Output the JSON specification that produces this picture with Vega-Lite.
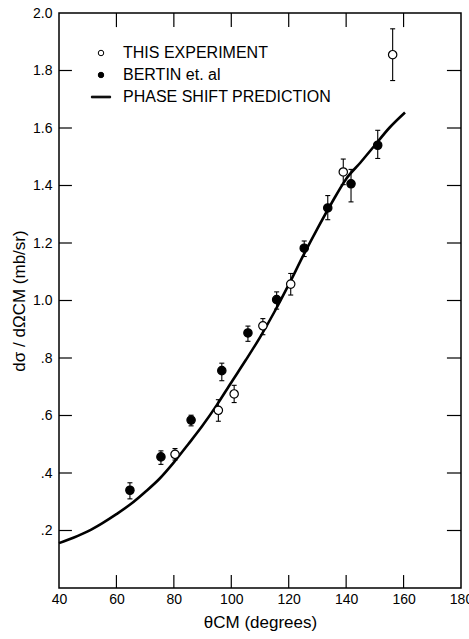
{
  "$schema": "https://vega.github.io/schema/vega-lite/v6.json",
  "width": 402,
  "height": 575,
  "autosize": {"type": "none"},
  "padding": {"left": 59, "top": 13, "right": 8, "bottom": 51},
  "background": "white",
  "config": {
    "view": {"stroke": "black", "strokeWidth": 1.5},
    "font": "Liberation Sans"
  },
  "datasets": {
    "xticks": [{"v": 60}, {"v": 80}, {"v": 100}, {"v": 120}, {"v": 140}, {"v": 160}],
    "yticks": [{"v": 0.2}, {"v": 0.4}, {"v": 0.6}, {"v": 0.8}, {"v": 1.0}, {"v": 1.2}, {"v": 1.4}, {"v": 1.6}, {"v": 1.8}],
    "curve": [
      {"theta": 40, "sigma": 0.156},
      {"theta": 45, "sigma": 0.175},
      {"theta": 50, "sigma": 0.197},
      {"theta": 55, "sigma": 0.225},
      {"theta": 60, "sigma": 0.257},
      {"theta": 65, "sigma": 0.292},
      {"theta": 70, "sigma": 0.334},
      {"theta": 75, "sigma": 0.38},
      {"theta": 80, "sigma": 0.437},
      {"theta": 85, "sigma": 0.5},
      {"theta": 90, "sigma": 0.565},
      {"theta": 95, "sigma": 0.637},
      {"theta": 100, "sigma": 0.715},
      {"theta": 105, "sigma": 0.792},
      {"theta": 110, "sigma": 0.872},
      {"theta": 115, "sigma": 0.96},
      {"theta": 120, "sigma": 1.055},
      {"theta": 125, "sigma": 1.155},
      {"theta": 130, "sigma": 1.25},
      {"theta": 135, "sigma": 1.34},
      {"theta": 140, "sigma": 1.423},
      {"theta": 145, "sigma": 1.48},
      {"theta": 150, "sigma": 1.54},
      {"theta": 155, "sigma": 1.6},
      {"theta": 160.5, "sigma": 1.654}
    ],
    "points": [
      {"theta": 80.4, "sigma": 0.465, "lo": 0.445, "hi": 0.485, "series": "THIS EXPERIMENT"},
      {"theta": 95.5, "sigma": 0.618, "lo": 0.58, "hi": 0.655, "series": "THIS EXPERIMENT"},
      {"theta": 101, "sigma": 0.675, "lo": 0.645, "hi": 0.705, "series": "THIS EXPERIMENT"},
      {"theta": 111, "sigma": 0.912, "lo": 0.881, "hi": 0.937, "series": "THIS EXPERIMENT"},
      {"theta": 120.7, "sigma": 1.057, "lo": 1.019, "hi": 1.094, "series": "THIS EXPERIMENT"},
      {"theta": 139, "sigma": 1.447, "lo": 1.403, "hi": 1.492, "series": "THIS EXPERIMENT"},
      {"theta": 156.2, "sigma": 1.855, "lo": 1.765, "hi": 1.945, "series": "THIS EXPERIMENT"},
      {"theta": 64.7, "sigma": 0.34, "lo": 0.31, "hi": 0.366, "series": "BERTIN et. al"},
      {"theta": 75.5, "sigma": 0.456, "lo": 0.43, "hi": 0.477, "series": "BERTIN et. al"},
      {"theta": 86, "sigma": 0.584, "lo": 0.564, "hi": 0.601, "series": "BERTIN et. al"},
      {"theta": 96.7, "sigma": 0.756, "lo": 0.721, "hi": 0.782, "series": "BERTIN et. al"},
      {"theta": 105.8, "sigma": 0.887, "lo": 0.858, "hi": 0.911, "series": "BERTIN et. al"},
      {"theta": 115.8, "sigma": 1.003, "lo": 0.97, "hi": 1.03, "series": "BERTIN et. al"},
      {"theta": 125.4, "sigma": 1.182, "lo": 1.153, "hi": 1.207, "series": "BERTIN et. al"},
      {"theta": 133.6, "sigma": 1.322, "lo": 1.281, "hi": 1.365, "series": "BERTIN et. al"},
      {"theta": 141.7, "sigma": 1.406, "lo": 1.343, "hi": 1.456, "series": "BERTIN et. al"},
      {"theta": 151, "sigma": 1.54, "lo": 1.494, "hi": 1.592, "series": "BERTIN et. al"}
    ]
  },
  "layer": [
    {
      "data": {"name": "curve"},
      "mark": {"type": "line", "color": "black", "strokeWidth": 2.6, "interpolate": "monotone"},
      "encoding": {
        "x": {
          "field": "theta", "type": "quantitative",
          "scale": {"domain": [40, 180], "nice": false, "zero": false},
          "axis": {
            "orient": "bottom",
            "values": [40, 60, 80, 100, 120, 140, 160, 180],
            "grid": false,
            "domain": false,
            "ticks": false,
            "labelPadding": 4,
            "labelFlush": false,
            "labelFont": "Liberation Sans",
            "labelFontSize": 14,
            "labelColor": "black",
            "title": "θCM (degrees)",
            "titleFont": "Liberation Sans",
            "titleFontWeight": "normal",
            "titleColor": "black",
            "titleFontSize": 17,
            "titlePadding": 8
          }
        },
        "y": {
          "field": "sigma", "type": "quantitative",
          "scale": {"domain": [0, 2], "nice": false, "zero": false},
          "axis": {
            "orient": "left",
            "values": [0.2, 0.4, 0.6, 0.8, 1.0, 1.2, 1.4, 1.6, 1.8, 2.0],
            "grid": false,
            "domain": false,
            "ticks": false,
            "labelPadding": 7,
            "labelFlush": false,
            "labelFont": "Liberation Sans",
            "labelFontSize": 14,
            "labelColor": "black",
            "labelExpr": "datum.value >= 1 ? format(datum.value, '.1f') : replace(format(datum.value, '.1f'), '0.', '.')",
            "title": "dσ / dΩCM (mb/sr)",
            "titleFont": "Liberation Sans",
            "titleFontWeight": "normal",
            "titleColor": "black",
            "titleFontSize": 17,
            "titlePadding": 4
          }
        }
      }
    },
    {
      "data": {"name": "xticks"},
      "mark": {"type": "rule", "color": "black", "strokeWidth": 1.2},
      "encoding": {
        "x": {"field": "v", "type": "quantitative"},
        "y": {"datum": 0, "type": "quantitative"},
        "y2": {"datum": 0.045}
      }
    },
    {
      "data": {"name": "xticks"},
      "mark": {"type": "rule", "color": "black", "strokeWidth": 1.2},
      "encoding": {
        "x": {"field": "v", "type": "quantitative"},
        "y": {"datum": 1.951, "type": "quantitative"},
        "y2": {"datum": 2}
      }
    },
    {
      "data": {"name": "yticks"},
      "mark": {"type": "rule", "color": "black", "strokeWidth": 1.2},
      "encoding": {
        "y": {"field": "v", "type": "quantitative"},
        "x": {"datum": 40, "type": "quantitative"},
        "x2": {"datum": 44.5}
      }
    },
    {
      "data": {"name": "yticks"},
      "mark": {"type": "rule", "color": "black", "strokeWidth": 1.2},
      "encoding": {
        "y": {"field": "v", "type": "quantitative"},
        "x": {"datum": 175.1, "type": "quantitative"},
        "x2": {"datum": 180}
      }
    },
    {
      "data": {"name": "points"},
      "mark": {"type": "rule", "color": "black", "strokeWidth": 1.1},
      "encoding": {
        "x": {"field": "theta", "type": "quantitative"},
        "y": {"field": "lo", "type": "quantitative"},
        "y2": {"field": "hi"}
      }
    },
    {
      "data": {"name": "points"},
      "mark": {"type": "point", "shape": "M-1,0H1", "filled": false, "color": "black", "strokeWidth": 1.1, "opacity": 1, "size": 25},
      "encoding": {
        "x": {"field": "theta", "type": "quantitative"},
        "y": {"field": "lo", "type": "quantitative"}
      }
    },
    {
      "data": {"name": "points"},
      "mark": {"type": "point", "shape": "M-1,0H1", "filled": false, "color": "black", "strokeWidth": 1.1, "opacity": 1, "size": 25},
      "encoding": {
        "x": {"field": "theta", "type": "quantitative"},
        "y": {"field": "hi", "type": "quantitative"}
      }
    },
    {
      "data": {"name": "points"},
      "mark": {"type": "point", "strokeWidth": 1.2, "opacity": 1, "size": 70},
      "encoding": {
        "x": {"field": "theta", "type": "quantitative"},
        "y": {"field": "sigma", "type": "quantitative"},
        "shape": {
          "field": "series", "type": "nominal",
          "scale": {
            "domain": ["THIS EXPERIMENT", "BERTIN et. al", "PHASE SHIFT PREDICTION"],
            "range": ["circle", "circle", "M-3.5,-0.3H3.5V0.3H-3.5Z"]
          },
          "legend": {
            "orient": "none", "legendX": 34, "legendY": 32, "title": null,
            "labelFontSize": 16, "labelFont": "Liberation Sans", "labelColor": "black", "labelLimit": 400,
            "symbolSize": 30, "symbolStrokeWidth": 1, "rowPadding": 6, "labelOffset": 14
          }
        },
        "fill": {
          "field": "series", "type": "nominal",
          "scale": {
            "domain": ["THIS EXPERIMENT", "BERTIN et. al", "PHASE SHIFT PREDICTION"],
            "range": ["white", "black", "black"]
          },
          "legend": {
            "orient": "none", "legendX": 34, "legendY": 32, "title": null,
            "labelFontSize": 16, "labelFont": "Liberation Sans", "labelColor": "black", "labelLimit": 400,
            "symbolSize": 30, "symbolStrokeWidth": 1, "rowPadding": 6, "labelOffset": 14
          }
        },
        "stroke": {
          "field": "series", "type": "nominal",
          "scale": {
            "domain": ["THIS EXPERIMENT", "BERTIN et. al", "PHASE SHIFT PREDICTION"],
            "range": ["black", "black", "black"]
          },
          "legend": {
            "orient": "none", "legendX": 34, "legendY": 32, "title": null,
            "labelFontSize": 16, "labelFont": "Liberation Sans", "labelColor": "black", "labelLimit": 400,
            "symbolSize": 30, "symbolStrokeWidth": 1, "rowPadding": 6, "labelOffset": 14
          }
        }
      }
    }
  ]
}
